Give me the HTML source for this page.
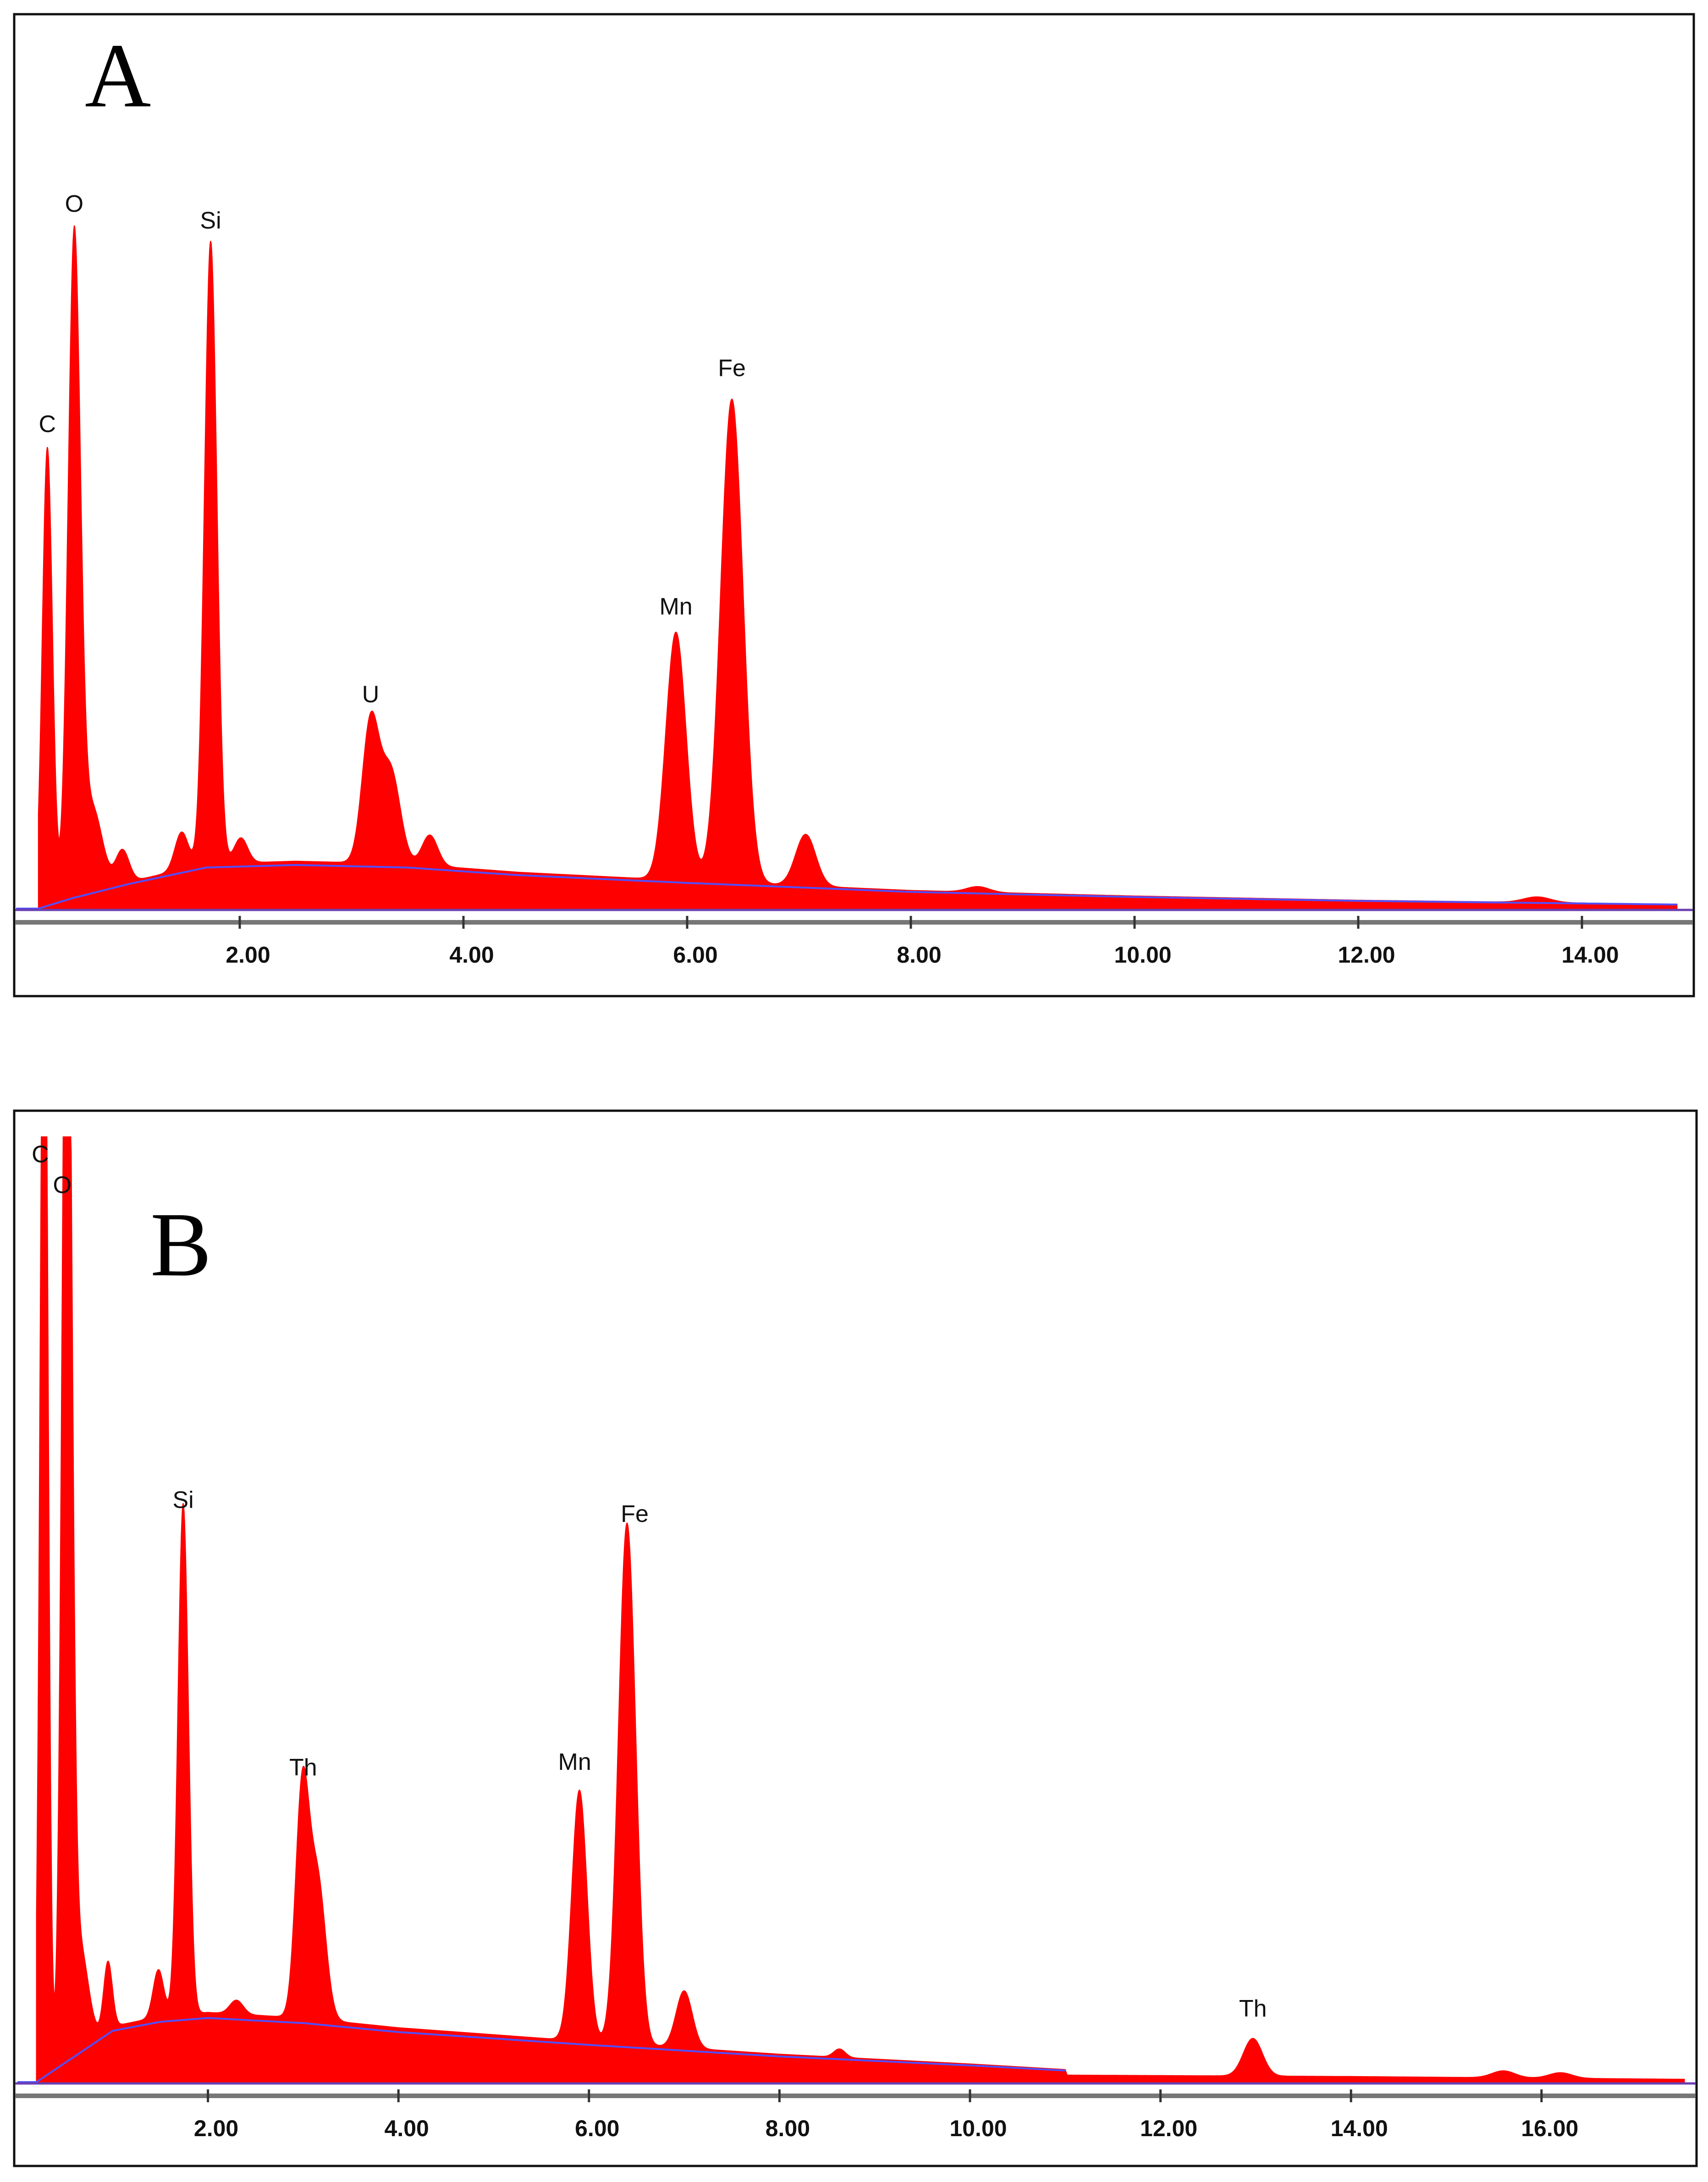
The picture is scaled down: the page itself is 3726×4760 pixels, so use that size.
<!DOCTYPE html>
<html><head><meta charset="utf-8">
<style>
html,body{margin:0;padding:0;background:#fff;}
svg{display:block;}
text{font-family:"Liberation Sans",sans-serif;}
</style></head>
<body>
<svg id="chart" width="3726" height="4760" viewBox="0 0 3726 4760" xmlns="http://www.w3.org/2000/svg">
<rect x="0" y="0" width="3726" height="4760" fill="#fff"/>
<g id="panelA">
  <rect x="31" y="31" width="3664" height="2142" fill="none" stroke="#111" stroke-width="5"/>
  <text x="185" y="232" font-size="200" style="font-family:'Liberation Serif',serif">A</text>
</g>
<g id="panelB">
  <rect x="31" y="2423" width="3670" height="2302" fill="none" stroke="#111" stroke-width="5"/>
  <text x="328" y="2782" font-size="200" style="font-family:'Liberation Serif',serif">B</text>
</g>
</svg>
<script>
// ---- Panel A data (counts, arbitrary) ----
const bgEnergyA = [0.2, 0.5, 1.0, 1.7, 2.5, 3.5, 4.5, 6.0, 8.0, 10.0, 12.0, 15.0];
const bgCountsA = [0, 80, 190, 320, 340, 320, 260, 200, 130, 90, 60, 30];
const peakEnergyA = [0.28, 0.52, 0.68, 0.95, 1.48, 1.74, 2.01, 3.17, 3.35, 3.70, 5.90, 6.40, 7.06, 8.60, 13.6];
const peakCountsA = [3290, 4690, 600, 240, 270, 4470, 180, 1010, 660, 220, 1780, 3470, 370, 40, 40];
const peakWidthA  = [0.045, 0.055, 0.09, 0.06, 0.06, 0.055, 0.06, 0.075, 0.085, 0.07, 0.09, 0.1, 0.09, 0.1, 0.12];
const labelNamesA = ["C", "O", "Si", "U", "Mn", "Fe"];
const labelEnergyA = [0.28, 0.52, 1.74, 3.17, 5.90, 6.40];
const labelCountsA = [3420, 5000, 4880, 1480, 2110, 3820];
const tickValuesA = [2, 4, 6, 8, 10, 12, 14];
const tickLabelsA = ["2.00", "4.00", "6.00", "8.00", "10.00", "12.00", "14.00"];

// ---- Panel B data ----
const bgEnergyB = [0.2, 0.6, 1.0, 1.5, 2.0, 3.0, 4.0, 6.0, 8.0, 10.0, 11.0, 11.02, 14.0, 17.5];
const bgCountsB = [0, 200, 400, 470, 500, 460, 390, 290, 200, 130, 90, 50, 40, 20];
const peakEnergyB = [0.28, 0.52, 0.65, 0.95, 1.48, 1.74, 2.30, 2.99, 3.15, 5.90, 6.40, 7.00, 8.63, 12.97, 15.6, 16.2];
const peakCountsB = [9000, 9000, 750, 490, 340, 3670, 100, 1610, 1000, 1800, 3740, 410, 60, 270, 50, 40];
const peakWidthB  = [0.04, 0.05, 0.09, 0.045, 0.055, 0.055, 0.07, 0.07, 0.085, 0.08, 0.09, 0.085, 0.06, 0.1, 0.12, 0.12];
const labelNamesB = ["C", "O", "Si", "Th", "Mn", "Fe", "Th"];
const labelEnergyB = [0.24, 0.47, 1.74, 3.0, 5.85, 6.48, 12.97];
const labelCountsB = [6600, 6380, 4120, 2200, 2240, 4020, 470];
const tickValuesB = [2, 4, 6, 8, 10, 12, 14, 16];
const tickLabelsB = ["2.00", "4.00", "6.00", "8.00", "10.00", "12.00", "14.00", "16.00"];

const NS = "http://www.w3.org/2000/svg";
function mk(tag, attrs, parent){const e=document.createElementNS(NS,tag);for(const k in attrs)e.setAttribute(k,attrs[k]);parent.appendChild(e);return e;}
function interp(xs, ys, x){
  if(x<=xs[0])return ys[0];
  for(let i=1;i<xs.length;i++){if(x<=xs[i]){const t=(x-xs[i-1])/(xs[i]-xs[i-1]);return ys[i-1]+t*(ys[i]-ys[i-1]);}}
  return ys[ys.length-1];
}
function drawPanel(g, cfg){
  const xS = e => cfg.x0 + e*cfg.kx;
  const yS = c => Math.max(cfg.yTop, cfg.base - c*cfg.ky);
  let d = `M${xS(cfg.eStart)},${cfg.base}`;
  let bl = "";
  for(let e=cfg.eStart; e<=cfg.eEnd+1e-9; e+=0.005){
    let c = interp(cfg.bgE, cfg.bgC, e);
    for(let i=0;i<cfg.pE.length;i++){const z=(e-cfg.pE[i])/cfg.pW[i];c+=cfg.pC[i]*Math.exp(-0.5*z*z);}
    d += ` L${xS(e).toFixed(1)},${yS(c).toFixed(1)}`;
  }
  d += ` L${xS(cfg.eEnd)},${cfg.base} Z`;
  const sp = mk("path",{d:d,fill:"#f00",stroke:"#f00","stroke-width":"2"},g);
  
  
  for(let e=0; e<=cfg.blineEnd+1e-9; e+=0.05){
    const c = e<cfg.eStart ? 0 : interp(cfg.bgE, cfg.bgC, e)*0.92;
    bl += (bl?" L":"M")+xS(e).toFixed(1)+","+yS(c).toFixed(1);
  }
  const bline = mk("path",{d:bl,fill:"none",stroke:"#5050ff","stroke-width":"4"},g);
  
  
  const bb = mk("line",{x1:cfg.frameL,x2:cfg.frameR,y1:cfg.base+3,y2:cfg.base+3,stroke:"#6a3fb0","stroke-width":"5"},g);
  
  
  const ax = mk("line",{x1:cfg.frameL,x2:cfg.frameR,y1:cfg.axisY,y2:cfg.axisY,stroke:"#777","stroke-width":"10"},g);
  
  
  for(let i=0;i<cfg.ticks.length;i++){
    const x=xS(cfg.ticks[i]);
    const t=mk("line",{x1:x,x2:x,y1:cfg.axisY-14,y2:cfg.axisY+14,stroke:"#333","stroke-width":"5"},g);
    
    
    const tl=mk("text",{x:x+18,y:cfg.axisY+88,"font-size":"50","font-weight":"bold","text-anchor":"middle",fill:"#111"},g);
    tl.textContent=cfg.tickLabels[i];
    
    
  }
  for(let i=0;i<cfg.lN.length;i++){
    const t=mk("text",{x:xS(cfg.lE[i]),y:yS(cfg.lC[i]),"font-size":"52","text-anchor":"middle",fill:"#111"},g);
    t.textContent=cfg.lN[i];
    
    
  }
}
drawPanel(document.getElementById("panelA"),{id:"panel-a",x0:35,kx:244,base:1982,ky:0.304,yTop:34,eStart:0.2,eEnd:14.85,blineEnd:14.85,
  bgE:bgEnergyA,bgC:bgCountsA,pE:peakEnergyA,pC:peakCountsA,pW:peakWidthA,lN:labelNamesA,lE:labelEnergyA,lC:labelCountsA,
  ticks:tickValuesA,tickLabels:tickLabelsA,axisY:2012,frameL:33,frameR:3693});
drawPanel(document.getElementById("panelB"),{id:"panel-b",x0:38,kx:207.8,base:4542,ky:0.304,yTop:2480,eStart:0.2,eEnd:17.5,blineEnd:11.0,
  bgE:bgEnergyB,bgC:bgCountsB,pE:peakEnergyB,pC:peakCountsB,pW:peakWidthB,lN:labelNamesB,lE:labelEnergyB,lC:labelCountsB,
  ticks:tickValuesB,tickLabels:tickLabelsB,axisY:4572,frameL:33,frameR:3699});
</script>
</body></html>
